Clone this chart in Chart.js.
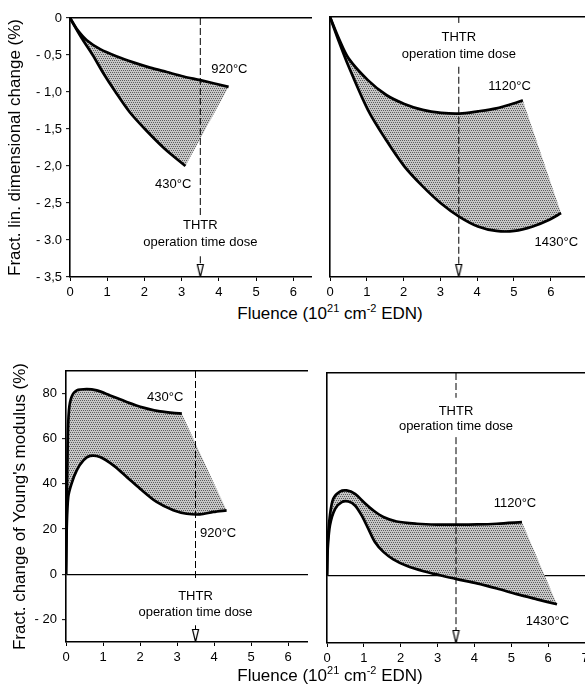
<!DOCTYPE html>
<html>
<head>
<meta charset="utf-8">
<script src="https://cdn.jsdelivr.net/npm/chart.js@4.4.1/dist/chart.umd.min.js"></script>
<style>
  body { margin: 0; background: #fff; }
  #wrap { position: relative; width: 585px; height: 690px; overflow: hidden; font-family: "Liberation Sans", Arial, sans-serif; }
  canvas { position: absolute; }
  .xtitle { position: absolute; left: 200px; width: 260px; text-align: center; font-size: 17px; color: #000; white-space: nowrap; }
  .xtitle sup { font-size: 11px; vertical-align: 7px; line-height: 0; }
</style>
</head>
<body>
<div id="wrap">
  <canvas id="tl" width="312" height="300" style="left:0;top:0"></canvas>
  <canvas id="tr" width="273" height="300" style="left:312px;top:0"></canvas>
  <canvas id="bl" width="308" height="330" style="left:0;top:340px"></canvas>
  <canvas id="br" width="277" height="330" style="left:308px;top:340px"></canvas>
  <div class="xtitle" style="top:304px">Fluence (10<sup>21</sup> cm<sup>-2</sup> EDN)</div>
  <div class="xtitle" style="top:666px">Fluence (10<sup>21</sup> cm<sup>-2</sup> EDN)</div>
</div>
<script>
// values; fluence in 10^21 cm^-2 EDN
const thtrDose = 3.5;

const fluenceTicks = [0, 1, 2, 3, 4, 5, 6];
const fluenceTicksWide = [0, 1, 2, 3, 4, 5, 6, 7];
const dimTickValues = [0, -0.5, -1.0, -1.5, -2.0, -2.5, -3.0, -3.5];
const dimTickLabels = ['0', '- 0,5', '- 1,0', '- 1,5', '- 2,0', '- 2,5', '- 3.0', '- 3,5'];
const ymTickValues = [80, 60, 40, 20, 0, -20];
const ymTickLabels = ['80', '60', '40', '20', '0', '- 20'];

// fract. lin. dimensional change (%)
const dim920Fluence = [0, 0.20, 0.45, 0.81, 1.26, 1.70, 2.15, 2.60, 3.05, 3.50, 4.26];
const dim920Change = [0, -0.16, -0.30, -0.42, -0.52, -0.60, -0.67, -0.73, -0.79, -0.84, -0.93];
const dim430Fluence = [0, 0.30, 0.61, 0.90, 1.21, 1.60, 2.03, 2.55, 3.10];
const dim430Change = [0, -0.26, -0.50, -0.75, -0.99, -1.27, -1.51, -1.77, -2.00];
const dim1120Fluence = [0, 0.25, 0.51, 1.03, 1.53, 2.02, 2.52, 3.02, 3.52, 4.02, 4.52, 5.01, 5.24];
const dim1120Change = [0, -0.30, -0.56, -0.85, -1.05, -1.17, -1.25, -1.29, -1.30, -1.27, -1.23, -1.16, -1.12];
const dim1430Fluence = [0, 0.25, 0.51, 1.03, 1.53, 2.02, 2.52, 3.02, 3.52, 4.02, 4.52, 5.01, 5.51, 5.96, 6.28];
const dim1430Change = [0, -0.34, -0.67, -1.25, -1.66, -2.01, -2.28, -2.51, -2.69, -2.82, -2.88, -2.88, -2.82, -2.73, -2.64];

// fract. change of Young's modulus (%)
const ym430Fluence = [0, 0.045, 0.08, 0.15, 0.29, 0.56, 0.83, 1.19, 1.64, 2.09, 2.54, 3.13];
const ym430Change = [0, 57.8, 72.6, 78.5, 81.4, 82.0, 81.4, 79.2, 76.3, 73.8, 72.1, 71.1];
const ym920Fluence = [0, 0.02, 0.06, 0.15, 0.29, 0.47, 0.65, 0.92, 1.28, 1.64, 2.00, 2.45, 2.90, 3.26, 3.62, 3.98, 4.34];
const ym920Change = [0, 20.9, 34.2, 40.1, 46.0, 50.4, 52.4, 51.9, 48.2, 43.1, 37.9, 32.0, 28.3, 26.8, 26.5, 27.6, 28.3];
const ym1120Fluence = [0, 0.02, 0.08, 0.17, 0.35, 0.53, 0.76, 1.00, 1.26, 1.53, 1.89, 2.44, 2.98, 3.52, 4.07, 4.61, 5.29];
const ym1120Change = [0, 14.9, 26.7, 34.1, 37.3, 37.8, 36.3, 32.6, 28.9, 26.0, 24.0, 23.0, 22.6, 22.6, 22.7, 23.0, 23.7];
const ym1430Fluence = [0, 0.02, 0.08, 0.22, 0.40, 0.58, 0.76, 0.94, 1.12, 1.30, 1.53, 1.80, 2.16, 2.62, 3.07, 3.52, 4.07, 4.61, 5.15, 5.70, 6.24];
const ym1430Change = [0, 11.9, 22.3, 29.6, 32.6, 32.9, 31.1, 26.7, 20.8, 14.9, 10.5, 7.2, 4.3, 1.9, 0.1, -1.6, -3.5, -5.8, -8.3, -10.6, -12.8];

const FONT = '"Liberation Sans", Arial, sans-serif';
Chart.defaults.font.family = FONT;
Chart.defaults.color = '#000';

const pts = (xs, ys) => xs.map((x, i) => ({x: x, y: ys[i]}));

// closed outline: along upper curve, straight edge across, back along lower curve
// (end points doubled so the spline keeps sharp corners there)
function band(upper, lower) {
  const rev = lower.slice().reverse();
  return [...upper, upper[upper.length - 1], lower[lower.length - 1], ...rev];
}

// dotted grey screen like the printed shading
function stipple(ctx) {
  const c = document.createElement('canvas');
  c.width = 4; c.height = 4;
  const g = c.getContext('2d');
  g.fillStyle = '#c6c6c6'; g.fillRect(0, 0, 4, 4);
  g.fillStyle = '#5c5c5c';
  g.fillRect(0, 0, 1, 1); g.fillRect(2, 0, 1, 1);
  g.fillRect(1, 2, 1, 1); g.fillRect(3, 2, 1, 1);
  return ctx.createPattern(c, 'repeat');
}

// open arrow head, tip sits at the image centre
function arrowHead() {
  const c = document.createElement('canvas');
  c.width = 9; c.height = 28;
  const g = c.getContext('2d');
  g.fillStyle = '#fff'; g.strokeStyle = '#000'; g.lineWidth = 1.2;
  g.beginPath(); g.moveTo(1.5, 1.5); g.lineTo(7.5, 1.5); g.lineTo(4.5, 14); g.closePath();
  g.fill(); g.stroke();
  return c;
}

const notesPlugin = {
  id: 'notes',
  afterDatasetsDraw(chart, args, opts) {
    const {ctx, scales} = chart;
    ctx.save();
    ctx.font = '13px ' + FONT;
    ctx.fillStyle = '#000';
    ctx.textAlign = 'center';
    ctx.textBaseline = 'middle';
    (opts.items || []).forEach(n => {
      ctx.fillText(n.text, scales.x.getPixelForValue(n.x), scales.y.getPixelForValue(n.y));
    });
    ctx.restore();
  }
};

function makePanel(id, p) {
  const canvas = document.getElementById(id);
  const ctx = canvas.getContext('2d');
  const upper = pts(p.upper[0], p.upper[1]);
  const lower = pts(p.lower[0], p.lower[1]);
  // lower "order" is drawn on top
  const datasets = [
    { data: band(upper, lower), order: 9, fill: 'shape', backgroundColor: stipple(ctx), borderWidth: 0, borderColor: 'rgba(0,0,0,0)', pointRadius: 0, tension: 0.3 },
    { data: upper, order: 2, fill: false, borderColor: '#000', borderWidth: 2.7, pointRadius: 0, tension: 0.3 },
    { data: lower, order: 2, fill: false, borderColor: '#000', borderWidth: 2.7, pointRadius: 0, tension: 0.3 }
  ];
  p.doseSegments.forEach(s => {
    datasets.push({ data: [{x: thtrDose, y: s[0]}, {x: thtrDose, y: s[1]}], order: 3, fill: false, borderColor: '#000', borderWidth: 1, borderDash: [7, 3], pointRadius: 0 });
  });
  datasets.push({ data: [{x: thtrDose, y: p.yMin}], order: 1, showLine: false, pointStyle: arrowHead(), pointRadius: 7 });

  const zeroLine = c => (c.tick && c.tick.value === 0 && p.zeroLine) ? '#000' : 'rgba(0,0,0,0)';

  return new Chart(ctx, {
    type: 'line',
    data: { datasets: datasets },
    options: {
      responsive: false,
      animation: false,
      layout: { autoPadding: false, padding: { top: p.padTop, left: 0, right: 0, bottom: 0 } },
      plugins: {
        legend: { display: false },
        tooltip: { enabled: false },
        notes: { items: p.notes }
      },
      scales: {
        x: {
          type: 'linear', min: 0, max: p.xMax,
          afterBuildTicks: s => { s.ticks = p.xTicks.map(v => ({value: v})); },
          ticks: { autoSkip: false, maxRotation: 0, padding: 4, font: { size: 13 }, callback: v => String(v) },
          grid: { drawOnChartArea: false, drawTicks: true, tickLength: 4, tickColor: '#000', tickWidth: 1 },
          border: { display: true, color: '#000', width: 1.6 },
          afterFit: s => { s.height = p.xAxisH; s.paddingLeft = 0; s.paddingRight = 0; }
        },
        xTop: {
          type: 'linear', position: 'top', min: 0, max: p.xMax,
          ticks: { display: false },
          grid: { display: false, drawTicks: false },
          border: { display: true, color: '#000', width: 1.6 },
          afterFit: s => { s.height = 0; s.paddingLeft = 0; s.paddingRight = 0; }
        },
        y: {
          type: 'linear', min: p.yMin, max: p.yMax,
          afterBuildTicks: s => { s.ticks = p.yTicks.map(v => ({value: v})); },
          ticks: {
            display: p.yLabels !== null, autoSkip: false, padding: p.yTickPad, font: { size: 13 },
            callback: v => p.yLabels ? p.yLabels[p.yTicks.indexOf(v)] : ''
          },
          grid: { drawOnChartArea: !!p.zeroLine, color: zeroLine, lineWidth: 1.3, drawTicks: p.yLabels !== null, tickLength: 4, tickColor: '#000', tickWidth: 1 },
          border: { display: true, color: '#000', width: 1.6 },
          title: p.yTitle ? { display: true, text: p.yTitle, font: { size: 17 }, color: '#000', padding: { top: p.yTitlePad, bottom: 0 } } : { display: false },
          afterFit: s => { s.width = p.yAxisW; s.paddingTop = 0; s.paddingBottom = 0; }
        }
      }
    },
    plugins: [notesPlugin]
  });
}

makePanel('tl', {
  upper: [dim920Fluence, dim920Change], lower: [dim430Fluence, dim430Change],
  xMax: 6.5, xTicks: fluenceTicks, yMin: -3.5, yMax: 0, yTicks: dimTickValues, yLabels: dimTickLabels,
  padTop: 18, xAxisH: 23, yAxisW: 70, yTickPad: 4,
  yTitle: 'Fract. lin. dimensional change (%)', yTitlePad: 5,
  doseSegments: [[0, -2.68], [-3.22, -3.5]],
  notes: [
    { text: '920°C', x: 4.28, y: -0.70 }, { text: '430°C', x: 2.77, y: -2.25 },
    { text: 'THTR', x: 3.5, y: -2.80 }, { text: 'operation time dose', x: 3.5, y: -3.03 }
  ]
});

makePanel('tr', {
  upper: [dim1120Fluence, dim1120Change], lower: [dim1430Fluence, dim1430Change],
  xMax: 6.93, xTicks: fluenceTicks, yMin: -3.5, yMax: 0, yTicks: dimTickValues, yLabels: null,
  padTop: 17, xAxisH: 23, yAxisW: 18, yTickPad: 0,
  yTitle: null,
  doseSegments: [[0, -0.08], [-0.67, -3.5]],
  notes: [
    { text: 'THTR', x: 3.5, y: -0.28 }, { text: 'operation time dose', x: 3.5, y: -0.50 },
    { text: '1120°C', x: 4.88, y: -0.94 }, { text: '1430°C', x: 6.15, y: -3.04 }
  ]
});

makePanel('bl', {
  upper: [ym430Fluence, ym430Change], lower: [ym920Fluence, ym920Change],
  xMax: 6.54, xTicks: fluenceTicks, yMin: -30, yMax: 90, yTicks: ymTickValues, yLabels: ymTickLabels, zeroLine: true,
  padTop: 31, xAxisH: 28, yAxisW: 66, yTickPad: 5,
  yTitle: "Fract. change of Young's modulus (%)", yTitlePad: 10,
  doseSegments: [[90, -1.8], [-22.6, -30]],
  notes: [
    { text: '430°C', x: 2.68, y: 78.3 }, { text: '920°C', x: 4.11, y: 18.1 },
    { text: 'THTR', x: 3.5, y: -9.7 }, { text: 'operation time dose', x: 3.5, y: -16.8 }
  ]
});

makePanel('br', {
  upper: [ym1120Fluence, ym1120Change], lower: [ym1430Fluence, ym1430Change],
  xMax: 7.0, xTicks: fluenceTicksWide, yMin: -30, yMax: 90, yTicks: ymTickValues, yLabels: null, zeroLine: true,
  padTop: 33, xAxisH: 27, yAxisW: 19, yTickPad: 0,
  yTitle: null,
  doseSegments: [[90, 79], [61.5, -30]],
  notes: [
    { text: 'THTR', x: 3.5, y: 73.0 }, { text: 'operation time dose', x: 3.5, y: 66.4 },
    { text: '1120°C', x: 5.1, y: 31.9 }, { text: '1430°C', x: 5.98, y: -20.4 }
  ]
});
</script>
</body>
</html>
